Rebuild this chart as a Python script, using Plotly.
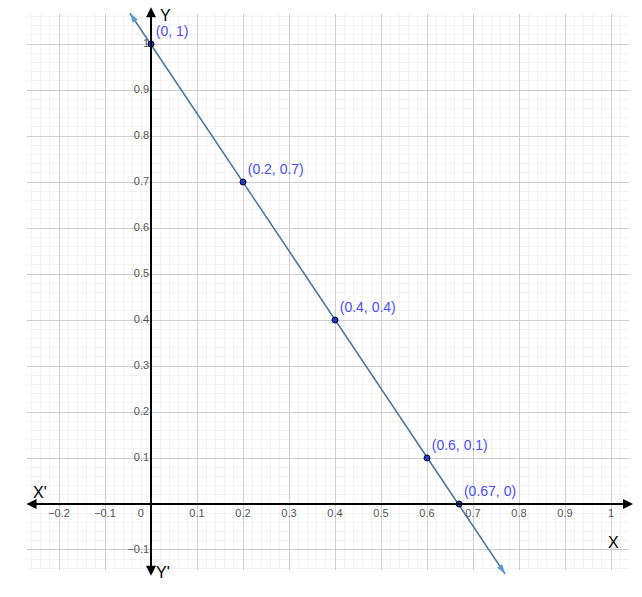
import plotly.graph_objects as go

# Data
point_x = [0, 0.2, 0.4, 0.6, 0.67]
point_y = [1, 0.7, 0.4, 0.1, 0]
point_labels = ["(0, 1)", "(0.2, 0.7)", "(0.4, 0.4)", "(0.6, 0.1)", "(0.67, 0)"]

line_x = [-0.0457, 0.7696]
line_y = [1.067, -0.152]
arrow_angles = [-33.7, 146.3]

xtick_vals = [-0.2, -0.1, 0.1, 0.2, 0.3, 0.4, 0.5, 0.6, 0.7, 0.8, 0.9, 1]
xtick_text = ["\u22120.2", "\u22120.1", "0.1", "0.2", "0.3", "0.4", "0.5", "0.6", "0.7", "0.8", "0.9", "1"]
ytick_vals = [-0.1, 0.1, 0.2, 0.3, 0.4, 0.5, 0.6, 0.7, 0.8, 0.9, 1]
ytick_text = ["\u22120.1", "0.1", "0.2", "0.3", "0.4", "0.5", "0.6", "0.7", "0.8", "0.9", "1"]

# full view range and the gridded region inside it
x_range = [-0.3283, 1.0674]
y_range = [-0.2022, 1.0957]
grid_x = [-0.2696, 1.039]
grid_y = [-0.1435, 1.065]

# axis extents (arrow tips)
xaxis_ends = [-0.274, 1.048]
yaxis_ends = [-0.159, 1.080]

font_family = "Liberation Sans, Arial, sans-serif"
tick_color = "#555555"

fig = go.Figure()

# main line
fig.add_trace(go.Scatter(
    x=line_x, y=line_y, mode="lines",
    line=dict(color="#4a78a0", width=1.6),
    hoverinfo="skip",
))
# arrow heads of the line
fig.add_trace(go.Scatter(
    x=line_x, y=line_y, mode="markers",
    marker=dict(symbol="arrow", size=10, color="#5b9bd5", angle=arrow_angles,
                line=dict(width=0)),
    hoverinfo="skip", cliponaxis=False,
))

# x tick labels
fig.add_trace(go.Scatter(
    x=xtick_vals, y=[-0.022] * len(xtick_vals), mode="text",
    text=xtick_text, textposition="middle center",
    textfont=dict(family=font_family, size=11, color=tick_color),
    hoverinfo="skip",
))
# origin label
fig.add_trace(go.Scatter(
    x=[-0.022], y=[-0.022], mode="text", text=["0"], textposition="middle center",
    textfont=dict(family=font_family, size=11, color=tick_color),
    hoverinfo="skip",
))
# y tick labels
fig.add_trace(go.Scatter(
    x=[-0.004] * len(ytick_vals), y=ytick_vals, mode="text",
    text=ytick_text, textposition="middle left",
    textfont=dict(family=font_family, size=11, color=tick_color),
    hoverinfo="skip",
))

# points
fig.add_trace(go.Scatter(
    x=point_x, y=point_y, mode="markers+text",
    text=point_labels, textposition="top right",
    textfont=dict(family=font_family, size=14, color="#4d4dff"),
    marker=dict(size=6, color="#1f3bbf", line=dict(color="#000040", width=1)),
    hoverinfo="skip", cliponaxis=False,
))

annotations = [
    # X axis
    dict(x=xaxis_ends[1], y=0, ax=xaxis_ends[0], ay=0, xref="x", yref="y", axref="x", ayref="y",
         showarrow=True, arrowhead=2, arrowside="end+start", arrowsize=1, arrowwidth=2,
         arrowcolor="black", text=""),
    # Y axis
    dict(x=0, y=yaxis_ends[1], ax=0, ay=yaxis_ends[0], xref="x", yref="y", axref="x", ayref="y",
         showarrow=True, arrowhead=2, arrowside="end+start", arrowsize=1, arrowwidth=2,
         arrowcolor="black", text=""),
]
axis_labels = [("X'", -0.241, 0.025), ("X", 1.0065, -0.083), ("Y", 0.031, 1.063), ("Y'", 0.025, -0.148)]
for t, x, y in axis_labels:
    annotations.append(dict(x=x, y=y, xref="x", yref="y", text=t, showarrow=False,
                            font=dict(family=font_family, size=16, color="black")))

# white masks limiting the grid to its region
mask = dict(type="rect", xref="x", yref="y", fillcolor="white", line=dict(width=0), layer="between")
shapes = [
    dict(mask, x0=x_range[0] - 1, x1=grid_x[0], y0=y_range[0] - 1, y1=y_range[1] + 1),
    dict(mask, x0=grid_x[1], x1=x_range[1] + 1, y0=y_range[0] - 1, y1=y_range[1] + 1),
    dict(mask, x0=x_range[0] - 1, x1=x_range[1] + 1, y0=grid_y[1], y1=y_range[1] + 1),
    dict(mask, x0=x_range[0] - 1, x1=x_range[1] + 1, y0=y_range[0] - 1, y1=grid_y[0]),
]

fig.update_layout(
    width=642, height=597,
    margin=dict(l=0, r=0, t=0, b=0),
    paper_bgcolor="white", plot_bgcolor="white",
    showlegend=False,
    annotations=annotations,
    shapes=shapes,
    xaxis=dict(range=x_range, tick0=0, dtick=0.1, showticklabels=False, ticks="",
               showgrid=True, gridcolor="#cfcfcf", gridwidth=1, zeroline=False, showline=False,
               minor=dict(dtick=0.02, tick0=0, showgrid=True, gridcolor="#f3f3f3", gridwidth=1)),
    yaxis=dict(range=y_range, tick0=0, dtick=0.1, showticklabels=False, ticks="",
               showgrid=True, gridcolor="#cfcfcf", gridwidth=1, zeroline=False, showline=False,
               minor=dict(dtick=0.02, tick0=0, showgrid=True, gridcolor="#f3f3f3", gridwidth=1)),
)

fig.write_html("out.html", config={"displayModeBar": False},
               post_script="document.body.style.margin='0';")
